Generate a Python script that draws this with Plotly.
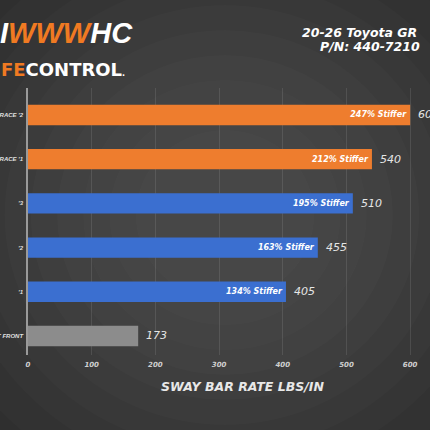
import plotly.graph_objects as go

categories = ["T FRONT", "'1", "'2", "'3", "RACE '1", "RACE '2"]
rates = [173, 405, 455, 510, 540, 600]
stiffer_pct = [None, 134, 163, 195, 212, 247]
bar_colors = ["#8c8c8c", "#3b6fd0", "#3b6fd0", "#3b6fd0", "#ee7d2e", "#ee7d2e"]
x_ticks = [0, 100, 200, 300, 400, 500, 600]
title_lines = ["20-26 Toyota GR", "P/N: 440-7210"]
x_title = "SWAY BAR RATE LBS/IN"

FONT = "DejaVu Sans"
ypos = list(range(len(categories)))
inside = [f"{p}% Stiffer" if p is not None else "" for p in stiffer_pct]

fig = go.Figure()
fig.add_trace(go.Bar(
    x=rates, y=ypos, orientation="h", width=0.46,
    marker=dict(color=bar_colors, line=dict(width=0)),
    text=inside, textposition="inside", insidetextanchor="end",
    textfont=dict(family=FONT, size=8, color="white", style="italic", weight="bold"),
    textangle=0, cliponaxis=False, hoverinfo="skip",
))

annotations = []
for v, y in zip(rates, ypos):
    annotations.append(dict(x=v, y=y, xref="x", yref="y", text=str(v), showarrow=False,
                            xanchor="left", xshift=6,
                            font=dict(family=FONT, size=11, color="#e6e6e6", style="italic")))

W, H = 430, 430
ml, mr, mt, mb = 28, 2, 88, 75
pw, ph = W - ml - mr, H - mt - mb

pix = []
pix.append(dict(x=300, y=32.5, text=title_lines[0], showarrow=False, xanchor="left", yanchor="middle",
                font=dict(family=FONT, size=12.5, color="white", style="italic", weight="bold")))
pix.append(dict(x=318, y=46.5, text=title_lines[1], showarrow=False, xanchor="left", yanchor="middle",
                font=dict(family=FONT, size=12.5, color="white", style="italic", weight="bold")))
pix.append(dict(x=-2, y=33, text="<span style='color:#ffffff'>I</span><span style='color:#f07a22'>WWW</span>HC",
                showarrow=False, xanchor="left", yanchor="middle",
                font=dict(family="Liberation Sans", size=29, color="white", style="italic", weight="bold")))
pix.append(dict(x=-1, y=69, text="<span style='color:#f07a22'>FE</span>CONTROL<span style='font-size:8px'>.</span>",
                showarrow=False, xanchor="left", yanchor="middle",
                font=dict(family=FONT, size=18, color="white", weight="bold")))
pix.append(dict(x=242, y=386, text=x_title, showarrow=False, xanchor="center", yanchor="middle",
                font=dict(family=FONT, size=12.5, color="#e8e8e8", style="italic", weight="bold")))
for a in pix:
    a["xref"] = "paper"
    a["yref"] = "paper"
    a["x"] = (a["x"] - ml) / pw
    a["y"] = (H - mb - a["y"]) / ph
annotations += pix

# soft background glow
shapes = []
cx, cy = 225, 215
radii = [320, 290, 260, 235, 210, 185, 160, 135, 110, 85]
for r in radii:
    shapes.append(dict(type="circle", xref="paper", yref="paper", layer="below",
                       x0=(cx - r * 1.05 - ml) / pw, x1=(cx + r * 1.05 - ml) / pw,
                       y0=(H - mb - (cy + r)) / ph, y1=(H - mb - (cy - r)) / ph,
                       fillcolor="rgba(255,255,255,0.014)", line=dict(width=0)))

fig.update_layout(
    width=W, height=H,
    margin=dict(l=ml, r=mr, t=mt, b=mb, pad=0, autoexpand=False),
    paper_bgcolor="#2c2c2c", plot_bgcolor="rgba(0,0,0,0)",
    showlegend=False, annotations=annotations, shapes=shapes,
    xaxis=dict(range=[0, 628], tickvals=x_ticks, ticktext=[str(t) for t in x_ticks],
               showgrid=True, gridcolor="rgba(255,255,255,0.10)", gridwidth=1, automargin=False,
               zeroline=False, showline=False, ticks="", ticklabelstandoff=4,
               tickfont=dict(family=FONT, size=7, color="#d0d0d0", style="italic", weight="bold")),
    yaxis=dict(range=[-0.43, 5.61], tickvals=ypos, ticktext=categories, automargin=False,
               showgrid=False, zeroline=False, showline=True, linecolor="#9a9a9a", linewidth=1.5,
               ticks="", ticklabelstandoff=2,
               tickfont=dict(family="Liberation Sans", size=6, color="#e0e0e0", style="italic", weight="bold")),
)

fig.write_html("out.html")
